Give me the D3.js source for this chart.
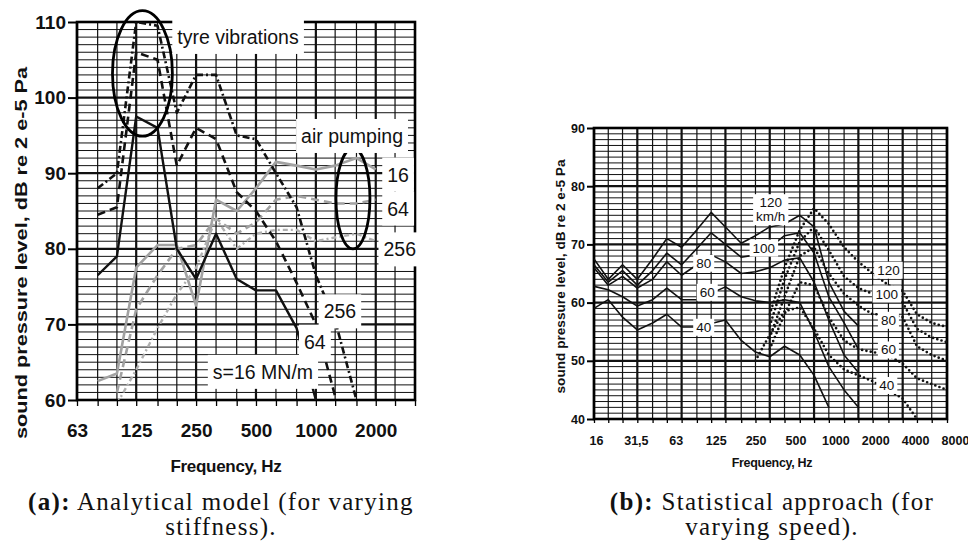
<!DOCTYPE html>
<html>
<head>
<meta charset="utf-8">
<script src="https://cdnjs.cloudflare.com/ajax/libs/d3/7.8.5/d3.min.js"></script>
<style>
  body { margin: 0; background: #fff; }
  svg { display: block; }
  text { font-family: "Liberation Sans", Arial, sans-serif; fill: #111; }
  .cap { font-family: "Liberation Serif", serif; font-size: 25px; letter-spacing: 1.3px; }
</style>
</head>
<body>
<svg id="fig" width="968" height="545"></svg>
<script>
// ---------- (a) analytical model, varying stiffness ----------
const bandsA = [63, 80, 100, 125, 160, 200, 250, 315, 400, 500, 630, 800, 1000, 1250, 1600, 2000, 2500, 3150];
const ticksA = [63, 125, 250, 500, 1000, 2000];
const yTicksA = [60, 70, 80, 90, 100, 110];
const freqA = [80, 100, 125, 160, 200, 250, 315, 400, 500, 630, 800, 1000, 1250, 1600, 2000];
const tyre16 = [76.5, 79, 97.5, 96, 80, 76, 82, 76, 74.5, 74.5, 69.5, 60, null, null, null];
const tyre64 = [84.5, 85.5, 106, 105, 91, 96, 94.5, 87.5, 85, 81, 75.5, 70, 60.5, null, null];
const tyre256 = [88, 90, 110, 109.5, 98, 103, 103, 95, 94.5, 90, 85.5, 76.5, 70.5, 60, null];
const air16 = [62.5, 63.5, 77.5, 80.5, 80.5, 72.5, 86.5, 85, 88, 91.5, 91, 90.5, 91, 92, 90.5];
const air64 = [null, 61, 72, 76.5, 80, 80.5, 84, 82, 83.5, 86.5, 87, 86.5, 86, 86, 86.5];
const air256 = [null, 59.5, 64, 69.5, 74, 77.5, 84, 80, 82, 82.5, 82.5, 81, 81.5, 82, 81];

// text labels [text, Hz, dB] and ellipses [Hz lo, Hz hi, dB lo, dB hi]
const notesA = [["tyre vibrations", 406, 108], ["air pumping", 1520, 94.9], ["16", 2590, 89.8],
  ["64", 2590, 85.3], ["256", 2640, 79.9], ["256", 1321, 71.7], ["64", 988, 67.7], ["s=16 MN/m", 542, 63.7]];
const ringsA = [[95, 190, 94.9, 111.5], [1262, 1870, 80, 93.3]];

// ---------- (b) statistical approach, varying speed ----------
const bandsB = [16, 20, 25, 31.5, 40, 50, 63, 80, 100, 125, 160, 200, 250, 315, 400, 500, 630, 800,
  1000, 1250, 1600, 2000, 2500, 3150, 4000];
const tickLabelsB = ["16", "31,5", "63", "125", "250", "500", "1000", "2000", "4000", "8000"];
const yTicksB = [40, 50, 60, 70, 80, 90];
// solid curves, 16 Hz .. 1000 Hz
const freqSolid = bandsB.slice(0, 19);
const solid120 = [67.5, 64, 66.5, 64, 67.5, 71, 69.5, 72.5, 75.5, 73, 70.2, 71.5, 73, 73.5, 75, 73, 63.5, 58.5, 56];
const solid100 = [66.5, 63.5, 65.5, 63, 65.5, 68.5, 66.5, 69.3, 72, 70, 67.8, 68.2, 69.5, 71.5, 72, 68.5, 61, 56.5, 52];
const solid80 = [66, 63, 64.5, 62.5, 64, 67, 64.7, 66.5, 68.2, 67, 65, 65.3, 66, 67.3, 67.7, 63.5, 57, 51, 48];
const solid60 = [62.8, 62.2, 61, 59.4, 60.5, 62.5, 60.5, 60.5, null, 62.7, 61, 60.3, 60, 60.5, 60, 55, 49, 45, 42];
const solid40 = [59, 60.5, 57.5, 55.3, 56.5, 58, 55.8, 55.8, null, 57, 53.5, 51.5, 50.7, 52.5, 51, 47.5, 42, null, null];
// dotted curves, 200 Hz .. 4000 Hz
const freqDotted = bandsB.slice(11);
const dot120 = [null, 58, 66, 72.5, 76.2, 73.5, 69.5, 67, 65, 63, 62, 58, 56.5, 55.8];
const dot100 = [null, 56, 64, 70.5, 73, 69, 64.5, 62.5, 61.5, 61, 60, 55.5, 54, 53.2];
const dot80 = [null, 54, 61, 68, 69.5, 65, 61.5, 59.5, 58, 58, 57.5, 52.5, 51, 50];
const dot60 = [null, 52, 58, 63.5, 63, 57.5, 53.5, 52, 51.5, 51, 49.5, 47, 46, 45];
const dot40 = [50, 54.5, 58.5, 59.2, 55.5, 51, 48.5, 47.5, 46.5, 45, 43.5, 40, null, null];

const notesB = [[["120", "km/h"], 254, 76], [["100"], 228, 69.4], [["80"], 89, 66.8], [["60"], 94, 61.8],
  [["40"], 89, 55.8], [["120"], 1600, 65.6], [["100"], 1560, 61.5], [["80"], 1600, 57],
  [["60"], 1600, 51.9], [["40"], 1560, 45.8]];

const svg = d3.select("#fig");
const pairs = (fs, vs) => vs.map((v, i) => [fs[i], v]).filter(d => d[1] != null);

function panel(c) {
    const g = svg.append("g");
    const x = d3.scaleLog().domain([c.bands[0], c.bands[c.bands.length - 1]]).range([c.left, c.right]);
    const y = d3.scaleLinear().domain(c.yDomain).range([c.bottom, c.top]);

    g.append("clipPath").attr("id", c.id)
        .append("rect").attr("x", c.left).attr("y", c.top)
        .attr("width", c.right - c.left).attr("height", c.bottom - c.top);

    g.append("g").selectAll("line")
        .data(d3.range(c.yDomain[0], c.yDomain[1] + 1))
        .join("line")
        .attr("x1", c.left).attr("x2", c.right)
        .attr("y1", d => y(d)).attr("y2", d => y(d))
        .attr("stroke", "#111")
        .attr("stroke-width", d => d % 10 === 0 ? 2.2 : 1);

    g.append("g").selectAll("line")
        .data(c.bands)
        .join("line")
        .attr("x1", d => x(d)).attr("x2", d => x(d))
        .attr("y1", c.top).attr("y2", c.bottom)
        .attr("stroke", "#111")
        .attr("stroke-width", (d, i) => i % 3 === 0 ? 2.2 : 1.2);

    // small ticks under the frame at every band
    g.append("g")
        .attr("transform", `translate(0,${c.bottom})`)
        .call(d3.axisBottom(x).tickValues(c.bands).tickSize(c.tick).tickFormat(""))
        .call(a => a.select(".domain").remove())
        .selectAll("line").attr("stroke-width", 1.3);

    g.append("g")
        .attr("transform", `translate(${c.left},0)`)
        .call(d3.axisLeft(y).tickValues(c.yTicks).tickSize(c.tick + 3).tickPadding(2))
        .call(a => a.select(".domain").remove())
        .call(a => a.selectAll("line").attr("stroke-width", 2))
        .selectAll("text")
        .attr("font-size", c.font).attr("font-weight", "bold")
        .attr("font-family", "Liberation Sans, Arial, sans-serif");

    g.append("rect")
        .attr("x", c.left).attr("y", c.top)
        .attr("width", c.right - c.left).attr("height", c.bottom - c.top)
        .attr("fill", "none").attr("stroke", "#000").attr("stroke-width", 2.6);

    g.append("text")
        .attr("transform", `translate(${c.yTitleX},${(c.top + c.bottom) / 2 + c.yTitleShift}) rotate(-90)`)
        .attr("text-anchor", "middle")
        .attr("font-size", c.yTitleFont).attr("font-weight", "bold")
        .attr("textLength", c.yTitleLen).attr("lengthAdjust", "spacingAndGlyphs")
        .text("sound pressure level, dB re 2 e-5 Pa");

    g.append("text")
        .attr("x", c.xTitleX).attr("y", c.xTitleY)
        .attr("text-anchor", "middle")
        .attr("font-size", c.xTitleFont).attr("font-weight", "bold")
        .attr("letter-spacing", -0.3)
        .text("Frequency, Hz");

    const line = d3.line().x(d => x(d[0])).y(d => y(d[1]));
    g.append("g").attr("clip-path", `url(#${c.id})`)
        .selectAll("path")
        .data(c.series)
        .join("path")
        .attr("d", d => line(pairs(d.f, d.v)))
        .attr("fill", "none")
        .attr("stroke", d => d.color)
        .attr("stroke-width", d => d.width)
        .attr("stroke-dasharray", d => d.dash)
        .attr("stroke-linecap", d => d.cap || "butt")
        .attr("stroke-linejoin", "round");

    return {g, x, y};
}

// box labels: white rect behind one or more lines of text
function boxLabel(g, lines, cx, cy, size, padX, padY, lead) {
    const lg = g.append("g");
    lg.selectAll("text").data(lines).join("text")
        .attr("x", cx)
        .attr("y", (d, i) => cy + (i - (lines.length - 1) / 2) * lead)
        .attr("dy", "0.35em")
        .attr("text-anchor", "middle")
        .attr("font-size", size)
        .text(d => d);
    const b = lg.node().getBBox();
    lg.insert("rect", "text")
        .attr("x", b.x - padX).attr("y", b.y - padY)
        .attr("width", b.width + 2 * padX).attr("height", b.height + 2 * padY)
        .attr("fill", "#fff");
}

// ---------- draw (a) ----------
const gray = "#a2a2a2";
const A = panel({
    id: "clipA", bands: bandsA, yDomain: [60, 110], yTicks: yTicksA,
    left: 77, right: 415, top: 22, bottom: 400, tick: 6, font: 19,
    yTitleX: 27, yTitleShift: 42, yTitleFont: 17, yTitleLen: 372,
    xTitleX: 226, xTitleY: 472, xTitleFont: 17,
    series: [
        {f: freqA, v: air16, color: gray, width: 2.6, dash: null},
        {f: freqA, v: air64, color: gray, width: 2.6, dash: "8,5"},
        {f: freqA, v: air256, color: "#b0b0b0", width: 2.4, dash: "5,3,2,3"},
        {f: freqA, v: tyre16, color: "#111", width: 2.4, dash: null},
        {f: freqA, v: tyre64, color: "#111", width: 2.6, dash: "8,5"},
        {f: freqA, v: tyre256, color: "#111", width: 2.6, dash: "7,3,2,3"}
    ]
});

A.g.append("g")
    .attr("transform", `translate(0,${A.y(60)})`)
    .call(d3.axisBottom(A.x).tickValues(ticksA).tickSize(0).tickPadding(24).tickFormat(d3.format("d")))
    .call(a => a.select(".domain").remove())
    .selectAll("text")
    .attr("font-size", 19).attr("font-weight", "bold")
    .attr("font-family", "Liberation Sans, Arial, sans-serif");

A.g.append("g").selectAll("ellipse")
    .data(ringsA)
    .join("ellipse")
    .attr("cx", d => (A.x(d[0]) + A.x(d[1])) / 2)
    .attr("cy", d => (A.y(d[2]) + A.y(d[3])) / 2)
    .attr("rx", d => (A.x(d[1]) - A.x(d[0])) / 2)
    .attr("ry", d => (A.y(d[2]) - A.y(d[3])) / 2)
    .attr("fill", "none").attr("stroke", "#000").attr("stroke-width", 2.8);

notesA.forEach(n => boxLabel(A.g, [n[0]], A.x(n[1]), A.y(n[2]), 19.5, 5, 6, 0));

// ---------- draw (b) ----------
const B = panel({
    id: "clipB", bands: bandsB, yDomain: [40, 90], yTicks: yTicksB,
    left: 594, right: 947, top: 128, bottom: 419, tick: 4, font: 12.5,
    yTitleX: 565, yTitleShift: 3, yTitleFont: 12.5, yTitleLen: 234,
    xTitleX: 772, xTitleY: 467, xTitleFont: 12.5,
    series: [
        ...[solid120, solid100, solid80, solid60, solid40].map(v =>
            ({f: freqSolid, v: v, color: "#111", width: 1.6, dash: null})),
        ...[dot120, dot100, dot80, dot60, dot40].map(v =>
            ({f: freqDotted, v: v, color: "#111", width: 2.7, dash: "0,4.4", cap: "round"}))
    ]
});

const xLab = d3.scalePoint().domain(tickLabelsB).range([596, 955]);
B.g.append("g")
    .attr("transform", `translate(0,${B.y(40)})`)
    .call(d3.axisBottom(xLab).tickSize(0).tickPadding(17))
    .call(a => a.select(".domain").remove())
    .selectAll("text")
    .attr("font-size", 12.5).attr("font-weight", "bold")
    .attr("font-family", "Liberation Sans, Arial, sans-serif");

notesB.forEach(n => boxLabel(B.g, n[0], B.x(n[1]), B.y(n[2]), 13.5, 3, 1, 14));

// ---------- captions ----------
const caps = [
    ["(a):", " Analytical model (for varying", 221, 510],
    ["", "stiffness).", 221, 535],
    ["(b):", " Statistical approach (for", 772, 510],
    ["", "varying speed).", 772, 535]
];
caps.forEach(c => {
    const t = svg.append("text").attr("class", "cap")
        .attr("x", c[2]).attr("y", c[3]).attr("text-anchor", "middle");
    if (c[0]) t.append("tspan").attr("font-weight", "bold").text(c[0]);
    t.append("tspan").text(c[1]);
});
</script>
</body>
</html>
